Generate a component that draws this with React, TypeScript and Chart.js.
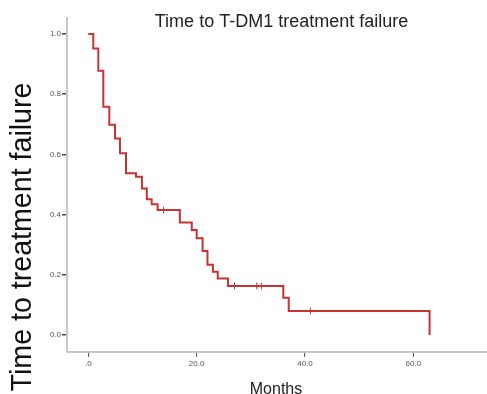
import React, { useEffect, useRef } from 'react';
import { Chart, registerables } from 'chart.js';

Chart.register(...registerables);

const chartTitle = 'Time to T-DM1 treatment failure';
const yTitle = 'Time to treatment failure';
const xTitle = 'Months';

// Kaplan-Meier step points: time of each drop (months) and survival after it
const eventTimes = [0, 0.92, 1.85, 2.77, 3.88, 4.93, 5.85, 6.96, 8.8, 9.9, 10.8, 11.7, 12.8, 16.9, 19.1, 20.0, 21.1, 22.0, 23.0, 23.9, 25.8, 36.0, 37.0, 63.0];
const survival = [1.0, 0.952, 0.878, 0.758, 0.698, 0.653, 0.604, 0.537, 0.526, 0.487, 0.451, 0.434, 0.415, 0.374, 0.349, 0.321, 0.279, 0.233, 0.21, 0.188, 0.163, 0.124, 0.08, 0.0];

// censored observations (months)
const censorTimes = [13.9, 27.0, 31.1, 32.0, 41.0];

const xTicks = [0, 20, 40, 60];
const xTickLabels = ['.0', '20.0', '40.0', '60.0'];
const yTicks = [0, 0.2, 0.4, 0.6, 0.8, 1.0];
const yTickLabels = ['0.0', '0.2', '0.4', '0.6', '0.8', '1.0'];

const RED = '#c83232';
const FONT = "'Liberation Sans', Arial, sans-serif";

function survivalAt(t: number): number {
  let s = survival[0];
  for (let i = 0; i < eventTimes.length; i++) {
    if (eventTimes[i] <= t) s = survival[i];
  }
  return s;
}

const textPlugin = {
  id: 'kmTexts',
  afterDraw(chart: any) {
    const ctx = chart.ctx as CanvasRenderingContext2D;
    ctx.save();
    ctx.textAlign = 'center';
    ctx.textBaseline = 'middle';
    // chart title
    ctx.fillStyle = '#222';
    ctx.font = `18px ${FONT}`;
    ctx.fillText(chartTitle, 281.5, 21.8);
    // x title
    ctx.font = `16px ${FONT}`;
    ctx.fillText(xTitle, 276, 389.2);
    // y title
    ctx.fillStyle = '#111';
    ctx.font = `28.6px ${FONT}`;
    ctx.translate(23.5, 237);
    ctx.rotate(-Math.PI / 2);
    ctx.fillText(yTitle, 0, 0);
    ctx.restore();
  },
};

export default function App() {
  const ref = useRef<HTMLCanvasElement | null>(null);

  useEffect(() => {
    if (!ref.current) return;
    const stepData = eventTimes.map((t, i) => ({ x: t, y: survival[i] }));
    const censorData = censorTimes.map((t) => ({ x: t, y: survivalAt(t) }));

    const chart = new Chart(ref.current, {
      type: 'line',
      data: {
        datasets: [
          {
            type: 'scatter',
            data: censorData,
            pointStyle: 'line',
            rotation: 90,
            radius: 3.5,
            borderWidth: 1,
            borderColor: RED,
            backgroundColor: RED,
            showLine: false,
          } as any,
          {
            type: 'line',
            data: stepData,
            stepped: true,
            borderColor: RED,
            borderWidth: 2,
            pointRadius: 0,
            fill: false,
            tension: 0,
          } as any,
        ],
      },
      options: {
        responsive: false,
        animation: false,
        devicePixelRatio: 1,
        layout: { autoPadding: false, padding: { top: 18, left: 0, right: 0, bottom: 0 } },
        plugins: {
          legend: { display: false },
          tooltip: { enabled: false },
          title: { display: false },
        },
        scales: {
          x: {
            type: 'linear',
            min: -3.93,
            max: 73.6,
            afterBuildTicks: (s: any) => {
              s.ticks = xTicks.map((v) => ({ value: v }));
            },
            afterFit: (s: any) => {
              s.height = 42;
              s.paddingLeft = 0;
              s.paddingRight = 0;
            },
            ticks: {
              autoSkip: false,
              maxRotation: 0,
              padding: 2,
              color: '#555',
              font: { family: FONT, size: 8 },
              callback: (v: any) => xTickLabels[xTicks.indexOf(Number(v))] ?? '',
            },
            grid: {
              drawOnChartArea: false,
              drawTicks: true,
              tickLength: 5,
              color: '#555',
              lineWidth: 1,
            },
            border: { display: true, color: '#c8c8c8', width: 2 },
          },
          y: {
            type: 'linear',
            min: -0.0565,
            max: 1.053,
            afterBuildTicks: (s: any) => {
              s.ticks = yTicks.map((v) => ({ value: v }));
            },
            afterFit: (s: any) => {
              s.width = 67;
              s.paddingTop = 0;
              s.paddingBottom = 0;
            },
            ticks: {
              autoSkip: false,
              padding: 1,
              color: '#555',
              font: { family: FONT, size: 8 },
              callback: (v: any) => {
                const i = yTicks.findIndex((t) => Math.abs(t - Number(v)) < 1e-6);
                return i >= 0 ? yTickLabels[i] : '';
              },
            },
            grid: {
              drawOnChartArea: false,
              drawTicks: true,
              tickLength: 5,
              color: '#444',
              lineWidth: 1.5,
            },
            border: { display: true, color: '#c8c8c8', width: 2 },
          },
        },
      } as any,
      plugins: [textPlugin],
    });
    return () => chart.destroy();
  }, []);

  return (
    <div style={{ position: 'fixed', left: 0, top: 0, width: 487, height: 394, background: '#fff' }}>
      <canvas ref={ref} width={487} height={394} style={{ display: 'block' }} />
    </div>
  );
}
